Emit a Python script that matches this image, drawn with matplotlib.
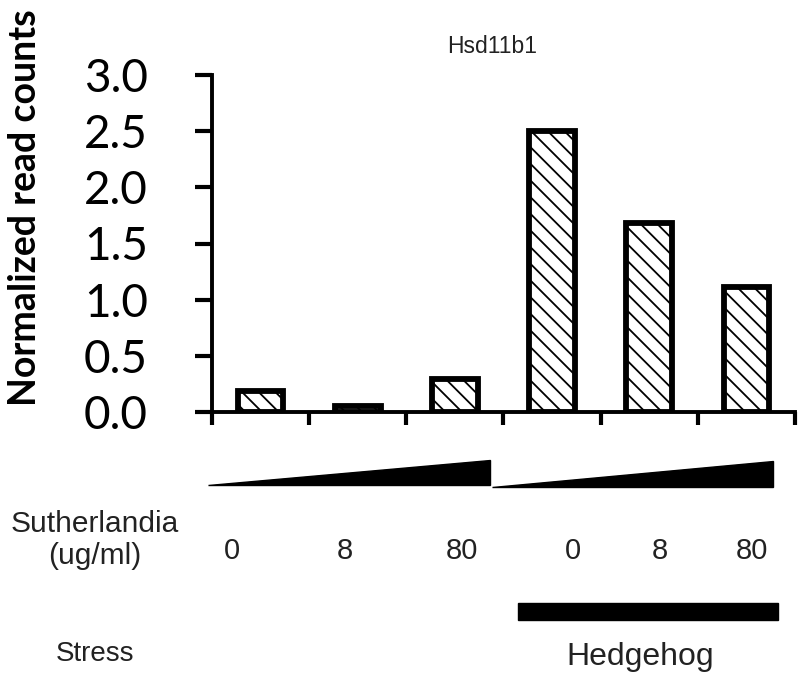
import numpy as np
import matplotlib
matplotlib.use('Agg')
import matplotlib.pyplot as plt
from matplotlib.patches import Polygon, Rectangle

# data
conditions = ['0', '8', '80', '0', '8', '80']
counts = [0.19, 0.05, 0.29, 2.50, 1.68, 1.11]
yticks = [0.0, 0.5, 1.0, 1.5, 2.0, 2.5, 3.0]
gene = 'Hsd11b1'

W, H = 801, 678
fig = plt.figure(figsize=(W/100, H/100), dpi=100)
plt.rcParams['hatch.linewidth'] = 1.3

# main axes (pixel box: x 212-795, y 75-412)
ax = fig.add_axes([212/W, 1-412/H, (795-212)/W, (412-75)/H])
x = np.arange(len(counts))
ax.bar(x, counts, width=0.47, color='white', edgecolor='black', linewidth=4.2,
       hatch='\\\\', zorder=3)
ax.set_xlim(-0.5, len(counts)-0.5)
ax.set_ylim(0, 3.0)
ax.set_yticks(yticks)
ax.set_yticklabels(['%.1f' % v for v in yticks], fontsize=33, family='Lato')
ax.set_xticks(np.arange(-0.5, len(counts)))
ax.set_xticklabels([])
for s in ['top', 'right']:
    ax.spines[s].set_visible(False)
for s in ['left', 'bottom']:
    ax.spines[s].set_linewidth(2.8)
ax.tick_params(axis='y', length=12, width=3, pad=34)
ax.tick_params(axis='x', length=9, width=3)
ax.set_title(gene, fontsize=16.5, family='Liberation Sans', pad=16, x=0.48,
             color='#222222')

fig.text(25/W, 1-208/H, 'Normalized read counts', rotation=90, fontsize=27,
         fontweight='bold', family='Lato', ha='center', va='center')

# annotation panel below the chart, in pixel coords
ov = fig.add_axes([0, 0, 1, 1])
ov.set_xlim(0, W)
ov.set_ylim(H, 0)
ov.axis('off')
ov.add_patch(Polygon([(208, 485), (490, 485), (490, 460)], closed=True, color='black'))
ov.add_patch(Polygon([(492, 487), (773, 487), (773, 461)], closed=True, color='black'))
ov.add_patch(Rectangle((518, 603), 260, 17, color='black'))

lab_font = dict(family='Liberation Sans', color='#222222')
ov.text(95, 540, 'Sutherlandia\n(ug/ml)', ha='center', va='center', fontsize=21.5,
        linespacing=1.2, **lab_font)
label_x = [232, 345, 462, 573, 660, 752]
for lx, c in zip(label_x, conditions):
    ov.text(lx, 551, c, ha='center', va='center', fontsize=21, **lab_font)
ov.text(95, 654, 'Stress', ha='center', va='center', fontsize=20, **lab_font)
ov.text(640, 657, 'Hedgehog', ha='center', va='center', fontsize=23, **lab_font)

fig.savefig('out.png', dpi=100)
